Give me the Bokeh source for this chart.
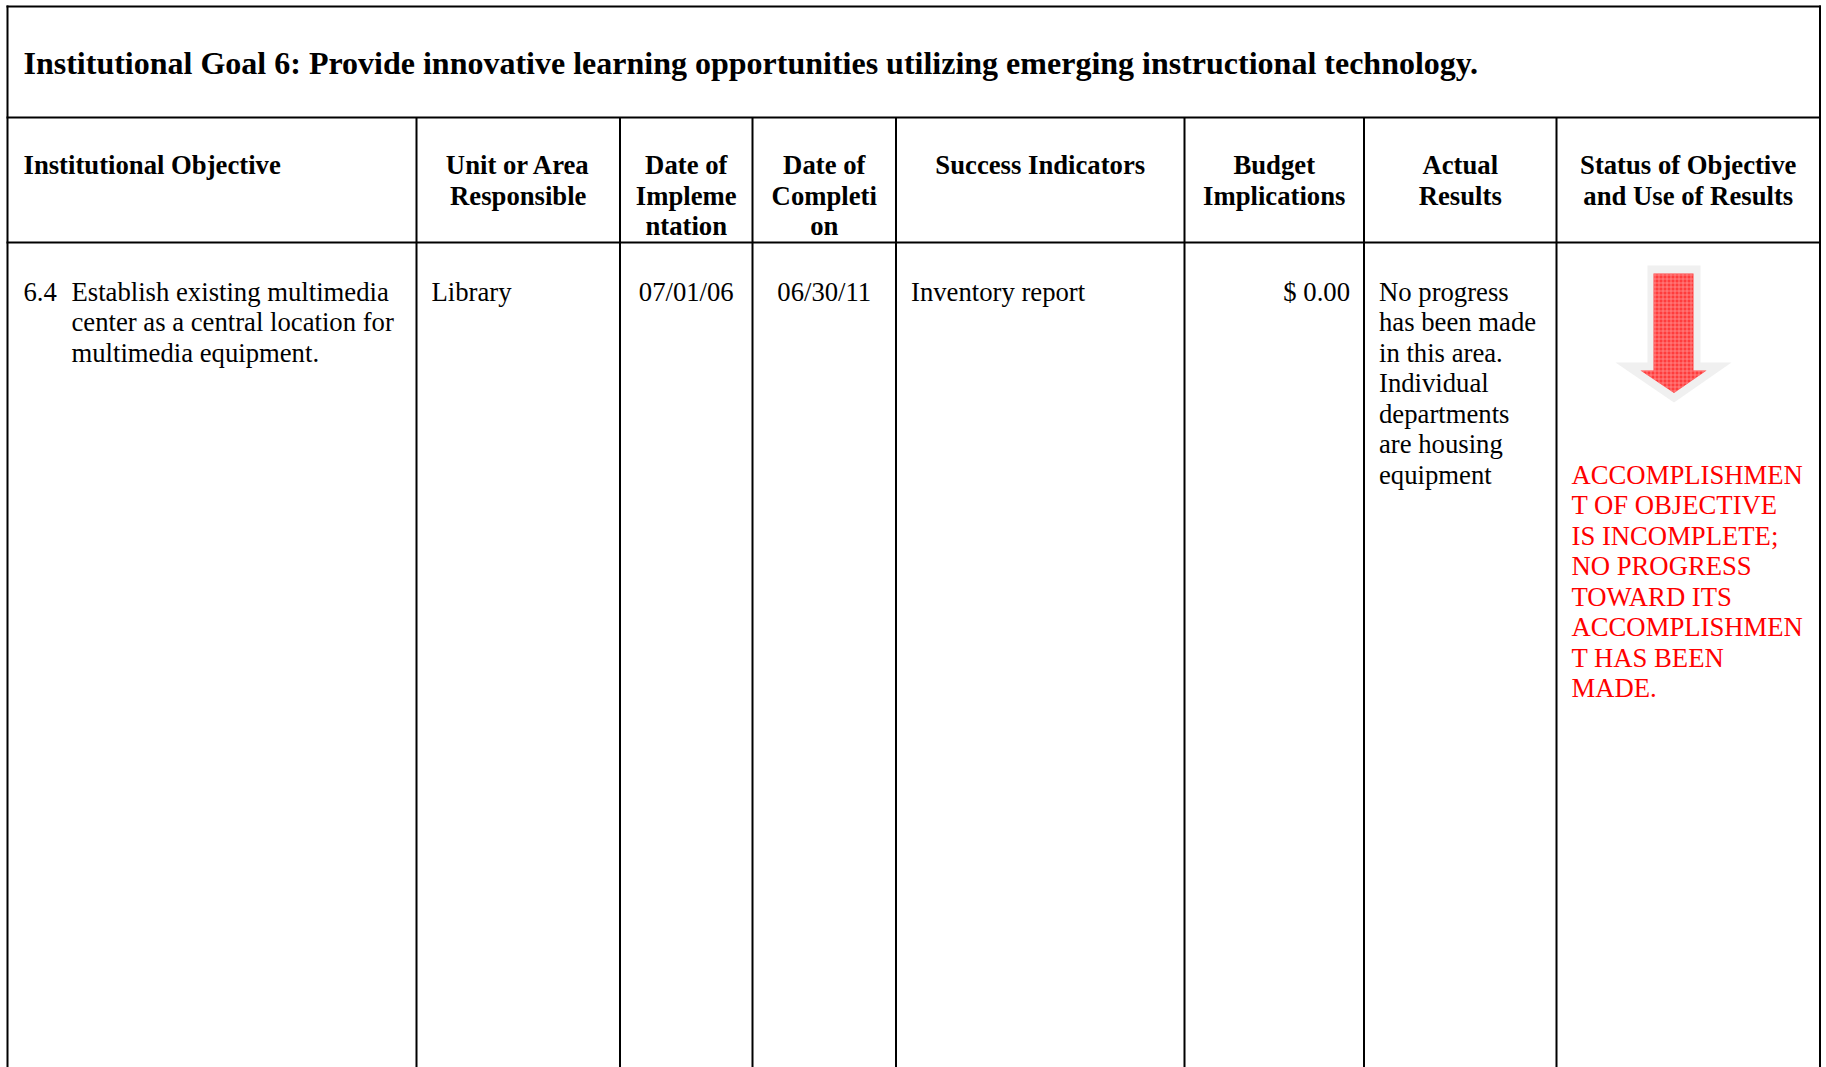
from bokeh.plotting import figure
from bokeh.models import Range1d, ColumnDataSource
from bokeh.core.properties import value
from bokeh.embed import file_html
from bokeh.resources import INLINE

# ---------------- data (table content) ----------------
title = ("Institutional Goal 6: Provide innovative learning opportunities "
         "utilizing emerging instructional technology.")
headers = [
    ["Institutional Objective"],
    ["Unit or Area", "Responsible"],
    ["Date of", "Impleme", "ntation"],
    ["Date of", "Completi", "on"],
    ["Success Indicators"],
    ["Budget", "Implications"],
    ["Actual", "Results"],
    ["Status of Objective", "and Use of Results"],
]
objective_number = "6.4"
objective_lines = ["Establish existing multimedia",
                   "center as a central location for",
                   "multimedia equipment."]
unit_lines = ["Library"]
impl_lines = ["07/01/06"]
comp_lines = ["06/30/11"]
indicator_lines = ["Inventory report"]
budget_lines = ["$ 0.00"]
result_lines = ["No progress", "has been made", "in this area.", "Individual",
                "departments", "are housing", "equipment"]
status_lines = ["ACCOMPLISHMEN", "T OF OBJECTIVE", "IS INCOMPLETE;",
                "NO PROGRESS", "TOWARD ITS", "ACCOMPLISHMEN",
                "T HAS BEEN", "MADE."]

# ---------------- layout ----------------
W, H = 1826, 1067
col_edges = [7, 416, 619.5, 752, 895.5, 1184, 1363.5, 1556, 1819.5]
top_y, row1_y, row2_y, bottom_y = 6, 117, 242, 1070
pad = 15
line_h = 30.5
title_base = 62.5
head_base = 164.5
body_base = 291
FONT = value("Liberation Serif")
FS = "26.7px"

p = figure(width=W, height=H, x_range=Range1d(0, W), y_range=Range1d(H, 0),
           output_backend="svg", toolbar_location=None, min_border=0,
           x_axis_location=None, y_axis_location=None, outline_line_color=None)
p.grid.visible = False
p.background_fill_color = "white"
p.border_fill_color = "white"

# grid lines
hx0, hx1, hy = [], [], []
for y in (top_y, row1_y, row2_y):
    hx0.append(col_edges[0] - 1); hx1.append(col_edges[-1] + 1); hy.append(y)
p.segment(x0=hx0, y0=hy, x1=hx1, y1=hy, line_color="black", line_width=2)
vx, vy0 = [], []
for i, x in enumerate(col_edges):
    vx.append(x)
    vy0.append(top_y - 1 if i in (0, len(col_edges) - 1) else row1_y)
p.segment(x0=vx, y0=vy0, x1=vx, y1=[bottom_y] * len(vx), line_color="black", line_width=2)

# title
p.text(x=[23], y=[title_base], text=[title], text_font=FONT, text_font_size="32px",
       text_font_style="bold", text_color="black", text_baseline="alphabetic",
       text_align="left")

# headers
hx, hyy, ht, ha = [], [], [], []
for i, lines in enumerate(headers):
    left, right = col_edges[i], col_edges[i + 1]
    for j, t in enumerate(lines):
        if i == 0:
            hx.append(left + 16); ha.append("left")
        else:
            hx.append((left + right) / 2); ha.append("center")
        hyy.append(head_base + j * line_h)
        ht.append(t)
p.text(x="x", y="y", text="t", text_align="a",
       source=ColumnDataSource(dict(x=hx, y=hyy, t=ht, a=ha)),
       text_font=FONT, text_font_size=FS, text_font_style="bold",
       text_color="black", text_baseline="alphabetic")

# body cells
bx, byy, bt, ba = [], [], [], []
def add(lines, x, align, start=0):
    for j, t in enumerate(lines):
        bx.append(x); byy.append(body_base + (start + j) * line_h); bt.append(t); ba.append(align)

add([objective_number], col_edges[0] + 16, "left")
add(objective_lines, 71, "left")
add(unit_lines, col_edges[1] + pad, "left")
add(impl_lines, (col_edges[2] + col_edges[3]) / 2, "center")
add(comp_lines, (col_edges[3] + col_edges[4]) / 2, "center")
add(indicator_lines, col_edges[4] + pad, "left")
add(budget_lines, col_edges[6] - 14, "right")
add(result_lines, col_edges[6] + pad, "left")
p.text(x="x", y="y", text="t", text_align="a",
       source=ColumnDataSource(dict(x=bx, y=byy, t=bt, a=ba)),
       text_font=FONT, text_font_size=FS, text_color="black",
       text_baseline="alphabetic")

# status (red)
sy = [body_base + (6 + j) * line_h for j in range(len(status_lines))]
p.text(x=[col_edges[7] + pad] * len(status_lines), y=sy, text=status_lines,
       text_font=FONT, text_font_size=FS, text_color="#ff0000",
       text_baseline="alphabetic", text_align="left")

# down arrow icon (shadow + red arrow)
p.patch(x=[1647, 1700, 1700, 1731, 1673.5, 1615, 1647],
        y=[265, 265, 362, 362, 402, 362, 362],
        fill_color="#f0f0f0", line_color=None)
p.patch(x=[1653, 1693, 1693, 1706, 1673.5, 1640, 1653],
        y=[273, 273, 370, 370, 392.5, 370, 370],
        fill_color="#ff3c3c", line_color=None,
        hatch_pattern="cross", hatch_color="#ff9a9a", hatch_scale=4,
        hatch_weight=1, hatch_alpha=0.7)

open("out.html", "w").write(file_html(p, INLINE))
